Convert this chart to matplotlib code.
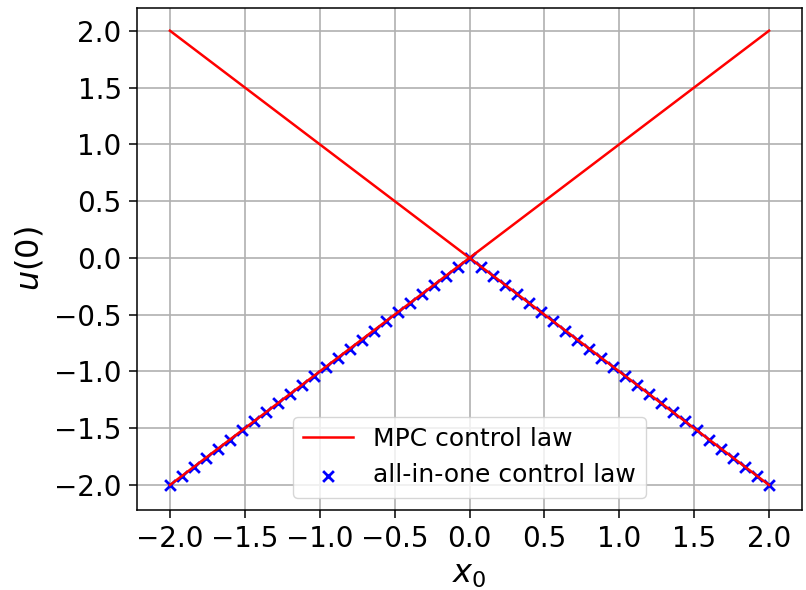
import numpy as np
import matplotlib
matplotlib.use("Agg")
import matplotlib.pyplot as plt

# MPC control law: two straight branches
mpc_x1 = [-2.0, 2.0]
mpc_u1 = [2.0, -2.0]
mpc_x2 = [-2.0, 2.0]
mpc_u2 = [-2.0, 2.0]

# all-in-one control law samples (step 0.08)
aio_x = [-2.0, -1.92, -1.84, -1.76, -1.68, -1.6, -1.52, -1.44, -1.36, -1.28,
         -1.2, -1.12, -1.04, -0.96, -0.88, -0.8, -0.72, -0.64, -0.56, -0.48,
         -0.4, -0.32, -0.24, -0.16, -0.08, 0.0, 0.08, 0.16, 0.24, 0.32,
         0.4, 0.48, 0.56, 0.64, 0.72, 0.8, 0.88, 0.96, 1.04, 1.12,
         1.2, 1.28, 1.36, 1.44, 1.52, 1.6, 1.68, 1.76, 1.84, 1.92, 2.0]
aio_u = [-abs(v) for v in aio_x]

ticks = [-2.0, -1.5, -1.0, -0.5, 0.0, 0.5, 1.0, 1.5, 2.0]

fig = plt.figure(figsize=(8.06, 5.9), dpi=100)
ax = fig.add_axes([137/806, 1-510/590, (802-137)/806, (510-8)/590])

ax.plot(mpc_x1, mpc_u1, color='red', lw=1.8, label='MPC control law', zorder=3)
ax.plot(mpc_x2, mpc_u2, color='red', lw=1.8, zorder=3)
ax.scatter(aio_x, aio_u, marker='x', color='blue', s=60, linewidths=2,
           label='all-in-one control law', zorder=2)

ax.set_xlim(-2.22, 2.22)
ax.set_ylim(-2.22, 2.2)
ax.set_xticks(ticks)
ax.set_yticks(ticks)
ax.tick_params(labelsize=20, length=6, width=1.1, pad=5)
for s in ax.spines.values():
    s.set_linewidth(1.1)
ax.grid(True, color='#b0b0b0', lw=1.2)
ax.set_axisbelow(True)
ax.set_xlabel(r'$x_0$', fontsize=23, labelpad=4)
ax.set_ylabel(r'$u(0)$', fontsize=23, labelpad=6)
ax.legend(loc='lower center', fontsize=18)

fig.savefig('out.png', dpi=100)
